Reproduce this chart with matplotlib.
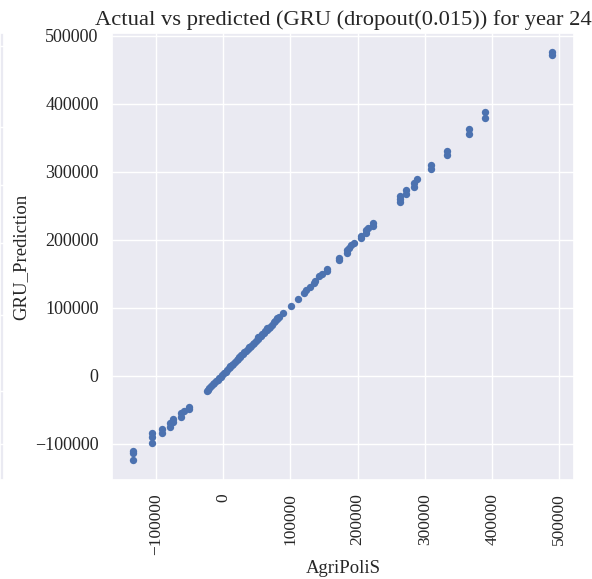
import numpy as np
import matplotlib
matplotlib.use('Agg')
import matplotlib.pyplot as plt
import seaborn as sns

sns.set_theme(style='darkgrid')
plt.rcParams['font.family'] = ['Liberation Serif', 'DejaVu Serif']

# AgriPoliS reference values and GRU predictions (year 24)
agripolis = [
    -134000, -134000, -134000,
    -106000, -106000, -106000,
    -90000, -90000,
    -79000, -79000, -74000, -74000,
    -62000, -62000, -58000, -50000, -50000,
    -24000, -22000, -20000, -17500, -15000, -13000, -10500, -8000, -6000,
    -3500, -1000, 1500, 4000, 6000, 8500, 11000, 13000, 15500, 18000,
    20500, 23000, 25000, 27500, 30000, 32000, 34500, 37000, 39500, 42000,
    44000, 46500, 49000, 51500, 54000, 56000, 58500, 61000, 63000, 65500,
    68000, 70000, 72500, 75800, 78000, 81000, 84000, 89000,
    10000, 24000, 38000, 52000, 66000, 80000,
    101000, 111000, 120000, 124000, 129000, 135000, 137000, 143000, 147000,
    155000, 155000, 172000, 172000, 184000, 184000, 187000, 191000, 195000,
    205000, 205000, 212000, 212000, 216000, 223000, 223000,
    263000, 263000, 263000, 272000, 272000, 284000, 284000, 288000,
    309000, 309000, 333000, 333000, 366000, 366000, 389000, 389000,
    489000, 489000,
]
gru_prediction = [
    -110000, -113000, -124000,
    -84000, -90000, -98000,
    -78000, -84000,
    -69000, -75000, -63000, -68000,
    -60000, -55000, -51000, -46000, -48000,
    -22000, -20000, -17500, -15000, -12500, -10000, -8000, -5500, -3000,
    -1000, 1500, 4000, 6000, 8500, 11000, 13000, 15500, 18000, 20500,
    23000, 25000, 27500, 30000, 32500, 34500, 37000, 39500, 42000, 44500,
    46500, 49000, 51500, 54000, 56500, 58500, 61000, 63500, 65500, 68000,
    70500, 72500, 75000, 79400, 81000, 84000, 87000, 92600,
    14000, 28500, 42500, 57000, 71000, 85000,
    103000, 113000, 122000, 126000, 131000, 137000, 139000, 147000, 150000,
    154000, 157000, 170000, 174000, 181000, 185000, 188000, 192000, 196000,
    202000, 206000, 210000, 214000, 217000, 220000, 225000,
    256000, 260000, 264000, 268000, 273000, 278000, 284000, 290000,
    304000, 310000, 325000, 331000, 355000, 363000, 379000, 388000,
    472000, 476000,
]

fig = plt.figure(figsize=(5.92, 5.79), dpi=100)
ax = fig.add_axes([0.189, 0.171, 0.781, 0.772])

ax.scatter(agripolis, gru_prediction, s=28, color='#4C72B0', linewidths=0)
ax.set_xlim(-165000, 522000)
ax.set_ylim(-153000, 504000)
ax.set_xticks([-100000, 0, 100000, 200000, 300000, 400000, 500000])
ax.set_yticks([-100000, 0, 100000, 200000, 300000, 400000, 500000])
ax.tick_params(axis='x', labelrotation=90, labelsize=12.5)
ax.tick_params(axis='y', labelsize=13)
ax.set_xlabel('AgriPoliS', fontsize=13.5)
ax.set_ylabel('GRU_Prediction', fontsize=13.5)
ax.set_title('Actual vs predicted (GRU (dropout(0.015)) for year 24', fontsize=16.2)

# sliver of a neighbouring panel at the left edge
side = fig.add_axes([0.0, 0.171, 0.007, 0.772])
side.set_xticks([])
side.set_yticks([0.08, 0.2, 0.37, 0.53, 0.66, 0.79, 0.97])
side.set_yticklabels([])
side.tick_params(length=0)

fig.savefig('out.png', dpi=100)
